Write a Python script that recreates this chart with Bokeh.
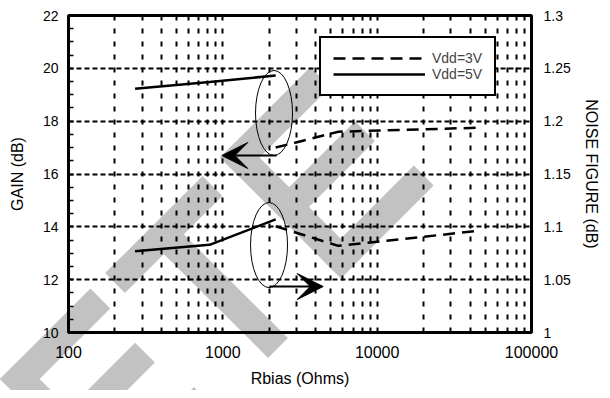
import numpy as np
from bokeh.plotting import figure
from bokeh.models import (Range1d, LinearAxis, FixedTicker, CustomJSTickFormatter,
                          Legend, LegendItem, Arrow, VeeHead, GridBox, Div)
from bokeh.embed import file_html
from bokeh.resources import INLINE

# ---------------- data ----------------
rbias_5v = [270, 820, 2200]
gain_5v = [19.23, 19.48, 19.73]
nf_5v = [1.077, 1.083, 1.107]

rbias_3v = [2200, 5600, 44000]
gain_3v = [17.0, 17.6, 17.75]
nf_3v = [1.1005, 1.082, 1.096]

series_labels = ["Vdd=3V", "Vdd=5V"]
x_ticks = [100, 1000, 10000, 100000]
x_grid = [200, 300, 400, 500, 600, 700, 800, 900, 1000,
          2000, 3000, 4000, 5000, 6000, 7000, 8000, 9000, 10000,
          20000, 30000, 40000, 50000, 60000, 70000, 80000, 90000]
gain_ticks = [10, 12, 14, 16, 18, 20, 22]
gain_minor = [10, 10.5, 11, 11.5, 12, 12.5, 13, 13.5, 14, 14.5, 15, 15.5, 16,
              16.5, 17, 17.5, 18, 18.5, 19, 19.5, 20, 20.5, 21, 21.5, 22]
gain_grid = [12, 14, 16, 18, 20]
nf_ticks = [1, 1.05, 1.1, 1.15, 1.2, 1.25, 1.3]

FONT = "Liberation Sans"
WIDTH, HEIGHT = 602, 390
FL, FT, FR, FB = 68, 15, 532, 332   # frame edges on the canvas

# ---------- watermark underlay (decorative, canvas pixels) ----------
W = 28.0
def stroke(x1, y1, x2, y2, ext1=0.0, ext2=0.0):
    dx, dy = x2 - x1, y2 - y1
    L = (dx * dx + dy * dy) ** 0.5
    ux, uy = dx / L, dy / L
    px, py = -uy * W / 2, ux * W / 2
    ax, ay = x1 - ux * ext1, y1 - uy * ext1
    bx, by = x2 + ux * ext2, y2 + uy * ext2
    return [(ax + px, ay + py), (bx + px, by + py), (bx - px, by - py), (ax - px, ay - py)]

def letter_e(ox, oy):
    j1 = (239.8 + ox, 157.5 + oy)
    j2 = (j1[0] + 101, j1[1] + 101)
    m = (j1[0] + 49.4, j1[1] + 49.4)
    return [
        stroke(j1[0], j1[1], j2[0], j2[1], W / 2, W / 2),
        stroke(j1[0], j1[1], j1[0] + 80.5, j1[1] - 80.5, W / 2, 0),
        stroke(j2[0], j2[1], j2[0] + 83, j2[1] - 83, W / 2, 0),
        stroke(m[0], m[1], m[0] + 75.8, m[1] - 75.8, 0, 0),
    ]

strokes = []
strokes += letter_e(0, 0)
strokes += letter_e(-220, 221.5)
strokes.append(stroke(115, 283, 212.5, 186))
strokes.append(stroke(164, 234.5, 278, 348))

polys = "".join(
    '<polygon points="%s" fill="#c2c2c2"/>' % " ".join("%.1f,%.1f" % q for q in pts)
    for pts in strokes)
svg = ('<svg xmlns="http://www.w3.org/2000/svg" width="%d" height="%d" '
       'style="display:block;position:absolute;left:0;top:0">%s</svg>' % (WIDTH, HEIGHT, polys))
under = Div(text=svg, width=WIDTH, height=HEIGHT, margin=0,
            styles={"overflow": "hidden", "padding": "0", "background-color": "white"})

# ---------------- main chart (transparent, on top) ----------------
p = figure(width=WIDTH, height=HEIGHT, x_axis_type="log",
           x_range=Range1d(100, 100000), y_range=Range1d(10, 22),
           output_backend="svg", toolbar_location=None,
           min_border_left=FL, min_border_right=WIDTH - FR,
           min_border_top=FT, min_border_bottom=HEIGHT - FB)
p.extra_y_ranges = {"nf": Range1d(1, 1.3)}
p.background_fill_color = None
p.border_fill_color = None
p.background_fill_alpha = 0
p.border_fill_alpha = 0
p.outline_line_color = "black"
p.outline_line_width = 3
p.outline_line_alpha = 1

# grids
p.xgrid.ticker = FixedTicker(ticks=x_grid)
p.xgrid.grid_line_color = "black"
p.xgrid.grid_line_width = 2
p.xgrid.grid_line_dash = "5 8"
p.xgrid.grid_line_alpha = 1
p.ygrid.ticker = FixedTicker(ticks=gain_grid)
p.ygrid.grid_line_color = "black"
p.ygrid.grid_line_width = 2
p.ygrid.grid_line_dash = "5 3"
p.ygrid.grid_line_alpha = 1

# axes
xa = p.xaxis[0]
xa.ticker = FixedTicker(ticks=x_ticks)
xa.formatter = CustomJSTickFormatter(code="return tick.toFixed(0)")
xa.axis_label = "Rbias (Ohms)"
xa.axis_line_color = None
xa.major_tick_in = 0
xa.major_tick_out = 0
xa.minor_tick_line_color = None
xa.major_label_standoff = 13
xa.axis_label_standoff = 9

ya = p.yaxis[0]
ya.ticker = FixedTicker(ticks=gain_ticks, minor_ticks=gain_minor)
ya.axis_label = "GAIN (dB)"
ya.axis_line_color = None
ya.major_tick_in = 5
ya.major_tick_out = 0
ya.minor_tick_in = 5
ya.minor_tick_out = 0
ya.major_tick_line_width = 1.5
ya.minor_tick_line_width = 1.5
ya.major_label_standoff = 10
ya.axis_label_standoff = 14

ra = LinearAxis(y_range_name="nf", axis_label="NOISE FIGURE (dB)")
ra.ticker = FixedTicker(ticks=nf_ticks)
ra.formatter = CustomJSTickFormatter(code="return String(Math.round(tick * 100) / 100)")
ra.axis_line_color = None
ra.major_tick_in = 0
ra.major_tick_out = 0
ra.minor_tick_line_color = None
ra.major_label_standoff = 12
ra.axis_label_standoff = 9
p.add_layout(ra, "right")

for ax, tsize in ((xa, "16px"), (ya, "14px"), (ra, "14px")):
    ax.major_label_text_font = FONT
    ax.major_label_text_font_size = tsize
    ax.major_label_text_color = "black"
    ax.axis_label_text_font = FONT
    ax.axis_label_text_font_size = "16px"
    ax.axis_label_text_font_style = "normal"
    ax.axis_label_text_color = "black"

# series
r3g = p.line(rbias_3v, gain_3v, line_color="black", line_width=2.5, line_dash="12 7")
r5g = p.line(rbias_5v, gain_5v, line_color="black", line_width=2.5)
p.line(rbias_3v, nf_3v, line_color="black", line_width=2.5, line_dash="12 7", y_range_name="nf")
p.line(rbias_5v, nf_5v, line_color="black", line_width=2.5, y_range_name="nf")

# ellipses & arrows
ell_x = [2146, 1992]
ell_y = [18.31, 13.31]
p.ellipse(x=ell_x, y=ell_y, width=37, height=85, width_units="screen", height_units="screen",
          fill_color=None, line_color="black", line_width=1)

p.add_layout(Arrow(end=VeeHead(size=26, fill_color="black", line_color="black"),
                   x_start=2230, y_start=16.70, x_end=985, y_end=16.70,
                   line_width=2, line_color="black"))
p.add_layout(Arrow(end=VeeHead(size=26, fill_color="black", line_color="black"),
                   x_start=2000, y_start=11.74, x_end=4470, y_end=11.74,
                   line_width=2, line_color="black"))

# legend
legend = Legend(items=[LegendItem(label=series_labels[0], renderers=[r3g]),
                       LegendItem(label=series_labels[1], renderers=[r5g])],
                location=(251, 236), orientation="vertical",
                border_line_color="black", border_line_width=2, border_line_alpha=1,
                background_fill_color="white", background_fill_alpha=1,
                padding=12, spacing=0, margin=0,
                glyph_width=92, glyph_height=14, label_height=14, label_standoff=7,
                label_text_font=FONT, label_text_font_size="14px",
                label_text_line_height=1.0)
p.add_layout(legend, "center")

layout = GridBox(children=[(under, 0, 0), (p, 0, 0)])
open("out.html", "w").write(file_html(layout, INLINE))
